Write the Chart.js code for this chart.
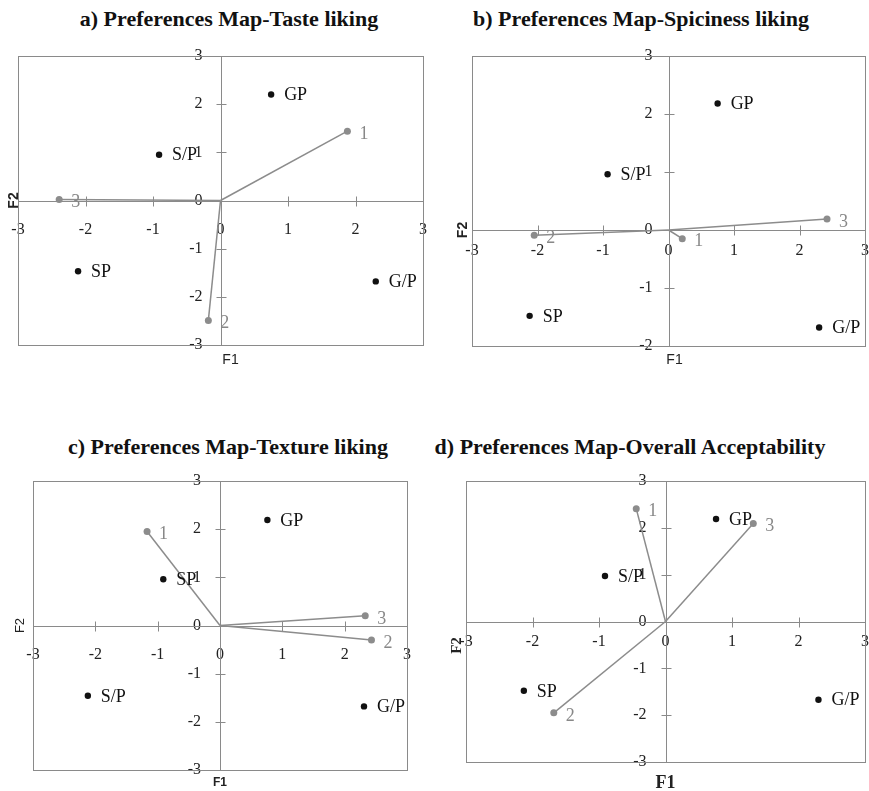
<!DOCTYPE html>
<html>
<head>
<meta charset="utf-8">
<script src="https://cdn.jsdelivr.net/npm/chart.js@4.4.1/dist/chart.umd.min.js"></script>
<style>
    body { margin: 0; background: #fff; width: 869px; height: 791px; position: relative; overflow: hidden; font-family: 'Liberation Serif', serif; }
    .title { position: absolute; font-weight: bold; font-size: 22px; text-align: center; white-space: nowrap; width: 440px; color: #111; }
    canvas { position: absolute; }
</style>
</head>
<body>
<div id="t0" class="title" style="left:9px;top:6px"></div>
<div id="t1" class="title" style="left:421px;top:6px"></div>
<div id="t2" class="title" style="left:8px;top:434px"></div>
<div id="t3" class="title" style="left:410px;top:434px"></div>
<canvas id="mapA" width="435" height="360" style="left:0;top:30px"></canvas>
<canvas id="mapB" width="434" height="360" style="left:435px;top:30px"></canvas>
<canvas id="mapC" width="435" height="336" style="left:0;top:455px"></canvas>
<canvas id="mapD" width="434" height="336" style="left:435px;top:455px"></canvas>
<script>
document.addEventListener('DOMContentLoaded', function() {
    const titles = [
        'a) Preferences Map-Taste liking',
        'b) Preferences Map-Spiciness liking',
        'c) Preferences Map-Texture liking',
        'd) Preferences Map-Overall Acceptability'
    ];

    // products (black dots)
    const productNamesA = ['GP', 'S/P', 'SP', 'G/P'];
    const productXA = [0.75, -0.91, -2.11, 2.30];
    const productYA = [2.20, 0.95, -1.47, -1.68];
    const productNamesB = ['GP', 'S/P', 'SP', 'G/P'];
    const productXB = [0.75, -0.93, -2.12, 2.30];
    const productYB = [2.18, 0.96, -1.48, -1.68];
    const productNamesC = ['GP', 'SP', 'S/P', 'G/P'];
    const productXC = [0.76, -0.91, -2.12, 2.31];
    const productYC = [2.19, 0.96, -1.46, -1.68];
    const productNamesD = ['GP', 'S/P', 'SP', 'G/P'];
    const productXD = [0.76, -0.91, -2.13, 2.30];
    const productYD = [2.19, 0.97, -1.48, -1.67];

    // consumer clusters (grey vectors)
    const clusterNames = ['1', '2', '3'];
    const clusterXA = [1.88, -0.18, -2.39];
    const clusterYA = [1.44, -2.49, 0.02];
    const clusterXB = [0.21, -2.05, 2.42];
    const clusterYB = [-0.15, -0.09, 0.19];
    const clusterXC = [-1.17, 2.43, 2.33];
    const clusterYC = [1.95, -0.30, 0.20];
    const clusterXD = [-0.44, -1.68, 1.32];
    const clusterYD = [2.41, -1.95, 2.09];

    const xRange = [-3, 3];
    const yRangeA = [-3, 3];
    const yRangeB = [-2, 3];
    const yRangeC = [-3, 3];
    const yRangeD = [-3, 3];

    titles.forEach((t, i) => { document.getElementById('t' + i).textContent = t; });

    const AXIS_GREY = '#8a8a8a';
    const VEC_GREY = '#8c8c8c';

    // frame, centred axes, crossing tick marks, labels
    const mapDecor = {
        id: 'mapDecor',
        beforeDraw(chart, args, opts) {
            // y labels of a data-positioned axis sit right on the line; push them left
            const ys = chart.scales.y;
            ys.getLabelItems(chart.chartArea).forEach(it => {
                if (!it.shifted) {
                    it.options.translation[0] -= opts.yLabelShift;
                    it.shifted = true;
                }
            });
        },
        beforeDatasetsDraw(chart, args, opts) {
            const ctx = chart.ctx;
            const a = chart.chartArea;
            const xs = chart.scales.x, ys = chart.scales.y;
            const x0 = Math.round(xs.getPixelForValue(0)) + 0.5;
            const y0 = Math.round(ys.getPixelForValue(0)) + 0.5;
            ctx.save();
            ctx.strokeStyle = AXIS_GREY;
            ctx.lineWidth = 1;
            ctx.strokeRect(Math.round(a.left) + 0.5, Math.round(a.top) + 0.5, Math.round(a.width), Math.round(a.height));
            ctx.beginPath();
            ctx.moveTo(a.left, y0); ctx.lineTo(a.right, y0);
            ctx.moveTo(x0, a.top); ctx.lineTo(x0, a.bottom);
            xs.ticks.forEach(t => {
                if (t.value === xs.min || t.value === xs.max || t.value === 0) return;
                const px = Math.round(xs.getPixelForValue(t.value)) + 0.5;
                ctx.moveTo(px, y0 - 5); ctx.lineTo(px, y0 + 5);
            });
            ys.ticks.forEach(t => {
                if (t.value === ys.min || t.value === ys.max || t.value === 0) return;
                const py = Math.round(ys.getPixelForValue(t.value)) + 0.5;
                ctx.moveTo(x0 - 5, py); ctx.lineTo(x0 + 5, py);
            });
            ctx.stroke();

            // axis titles
            ctx.fillStyle = '#222';
            ctx.font = opts.f1Font;
            ctx.textAlign = 'center';
            ctx.textBaseline = 'middle';
            ctx.fillText('F1', xs.getPixelForValue(0) + opts.f1dx, a.bottom + opts.f1dy);
            ctx.font = opts.f2Font;
            ctx.translate(a.left + opts.f2dx, ys.getPixelForValue(0) + opts.f2dy);
            ctx.rotate(-Math.PI / 2);
            ctx.fillText('F2', 0, 0);
            ctx.restore();
        },
        afterDatasetsDraw(chart) {
            const ctx = chart.ctx;
            ctx.save();
            ctx.textAlign = 'left';
            ctx.textBaseline = 'middle';
            ctx.font = '18px "Liberation Serif"';
            chart.data.datasets.forEach((ds, i) => {
                const meta = chart.getDatasetMeta(i);
                if (ds.kind === 'product') {
                    ctx.fillStyle = '#111';
                    meta.data.forEach((pt, j) => ctx.fillText(ds.names[j], pt.x + 13, pt.y + 1));
                } else {
                    const pt = meta.data[1];
                    ctx.fillStyle = '#888';
                    ctx.fillText(ds.label, pt.x + 12, pt.y + 3);
                }
            });
            ctx.restore();
        }
    };

    function makeMap(id, names, px, py, cx, cy, yRange, pad, decor) {
        const datasets = [{
            kind: 'product',
            label: 'products',
            names: names,
            data: px.map((v, i) => ({ x: v, y: py[i] })),
            pointRadius: 3.2,
            pointBackgroundColor: '#111',
            pointBorderWidth: 0,
            showLine: false
        }];
        clusterNames.forEach((n, i) => {
            datasets.push({
                kind: 'cluster',
                label: n,
                data: [{ x: 0, y: 0 }, { x: cx[i], y: cy[i] }],
                showLine: true,
                borderColor: VEC_GREY,
                borderWidth: 1.5,
                pointRadius: [0, 3.5],
                pointBackgroundColor: VEC_GREY,
                pointBorderWidth: 0
            });
        });
        const tickFont = { family: 'Liberation Serif', size: 16 };
        return new Chart(document.getElementById(id), {
            type: 'scatter',
            data: { datasets: datasets },
            options: {
                responsive: false,
                animation: false,
                events: [],
                layout: { padding: pad },
                plugins: { legend: { display: false }, tooltip: { enabled: false }, mapDecor: decor },
                scales: {
                    x: {
                        type: 'linear', min: xRange[0], max: xRange[1], position: { y: 0 },
                        ticks: { stepSize: 1, font: tickFont, color: '#222', padding: decor.xLabelPad, maxRotation: 0, autoSkip: false },
                        grid: { display: false, drawTicks: false },
                        border: { display: false },
                        afterFit: s => { s.height = 0; s.paddingLeft = 0; s.paddingRight = 0; }
                    },
                    y: {
                        type: 'linear', min: yRange[0], max: yRange[1], position: { x: 0 },
                        ticks: { stepSize: 1, font: tickFont, color: '#222', autoSkip: false },
                        grid: { display: false, drawTicks: false },
                        border: { display: false },
                        afterFit: s => { s.width = 0; s.paddingTop = 0; s.paddingBottom = 0; }
                    }
                }
            },
            plugins: [mapDecor]
        });
    }

    makeMap('mapA', productNamesA, productXA, productYA, clusterXA, clusterYA, yRangeA,
        { left: 18, right: 12, top: 26, bottom: 45 },
        { xLabelPad: 20, yLabelShift: 18, f1Font: '14px "Liberation Sans"', f1dx: 10, f1dy: 15, f2Font: 'bold 14px "Liberation Sans"', f2dx: -4, f2dy: 0 });
    makeMap('mapB', productNamesB, productXB, productYB, clusterXB, clusterYB, yRangeB,
        { left: 37, right: 2, top: 26, bottom: 44 },
        { xLabelPad: 11, yLabelShift: 16, f1Font: '14px "Liberation Sans"', f1dx: 6, f1dy: 14, f2Font: 'bold 14px "Liberation Sans"', f2dx: -9, f2dy: 0 });
    makeMap('mapC', productNamesC, productXC, productYC, clusterXC, clusterYC, yRangeC,
        { left: 33, right: 28, top: 26, bottom: 21 },
        { xLabelPad: 20, yLabelShift: 19, f1Font: 'bold 12px "Liberation Sans"', f1dx: 0, f1dy: 13, f2Font: '13px "Liberation Sans"', f2dx: -13, f2dy: 0 });
    makeMap('mapD', productNamesD, productXD, productYD, clusterXD, clusterYD, yRangeD,
        { left: 31, right: 1, top: 26, bottom: 29 },
        { xLabelPad: 11, yLabelShift: 19, f1Font: 'bold 18px "Liberation Serif"', f1dx: 0, f1dy: 21, f2Font: 'bold 15px "Liberation Serif"', f2dx: -9, f2dy: 24 });
});
</script>
</body>
</html>
